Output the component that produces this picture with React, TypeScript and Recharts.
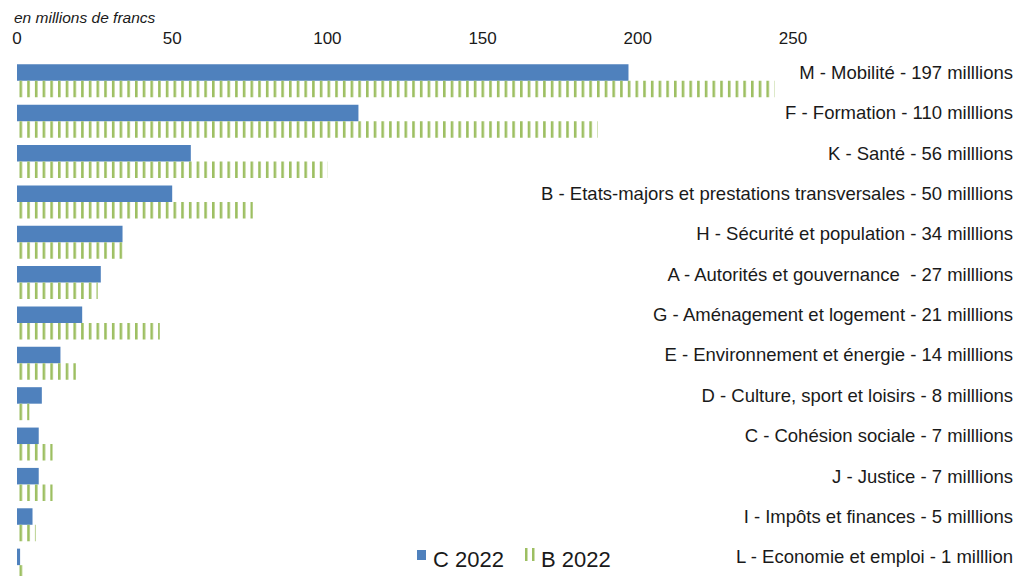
import React from 'react'
import { BarChart, Bar, XAxis, YAxis, Legend } from 'recharts'

const categories = [
  'M - Mobilité - 197 milllions',
  'F - Formation - 110 milllions',
  'K - Santé - 56 milllions',
  'B - Etats-majors et prestations transversales - 50 milllions',
  'H - Sécurité et population - 34 milllions',
  'A - Autorités et gouvernance  - 27 milllions',
  'G - Aménagement et logement - 21 milllions',
  'E - Environnement et énergie - 14 milllions',
  'D - Culture, sport et loisirs - 8 milllions',
  'C - Cohésion sociale - 7 milllions',
  'J - Justice - 7 milllions',
  'I - Impôts et finances - 5 milllions',
  'L - Economie et emploi - 1 milllion',
]
const c2022 = [197, 110, 56, 50, 34, 27, 21, 14, 8, 7, 7, 5, 1]
const b2022 = [244, 187, 100, 76, 34, 26, 46, 19, 4, 11.5, 11.5, 6, 2.5]
const xTicks = [0, 50, 100, 150, 200, 250]

const BLUE = '#4f81bd'
const GREEN = '#9dbf62'
const FONT = '"Liberation Sans", Arial, sans-serif'

const data = categories.map((name, i) => ({ name, c: c2022[i], b: b2022[i] }))

// right-aligned category labels, level with the blue bar
const CategoryTick = ({ y, payload }: any) => (
  <text
    x={1013}
    y={y - 8.25}
    dy="0.36em"
    textAnchor="end"
    fontSize={18.5}
    fill="#1a1a1a"
    fontFamily={FONT}
    style={{ whiteSpace: 'pre' }}
  >
    {payload.value}
  </text>
)

const renderLegend = () => (
  <svg width={220} height={30}>
    <rect x={2} y={5} width={9} height={10} fill={BLUE} />
    <text x={18} y={22} fontSize={22} fill="#1a1a1a" fontFamily={FONT}>C 2022</text>
    <rect x={110} y={3} width={2.5} height={13} fill={GREEN} />
    <rect x={117} y={3} width={2.5} height={13} fill={GREEN} />
    <text x={126} y={22} fontSize={22} fill="#1a1a1a" fontFamily={FONT}>B 2022</text>
  </svg>
)

export default function App() {
  return (
    <div style={{ position: 'absolute', top: 0, left: 0, width: 1015, height: 576, overflow: 'hidden', background: '#fff', fontFamily: FONT }}>
      <svg width={0} height={0} style={{ position: 'absolute' }}>
        <defs>
          <pattern id="vstripes" x={19.5} y={0} width={7.7} height={10} patternUnits="userSpaceOnUse">
            <rect x={0} y={0} width={2.6} height={10} fill={GREEN} />
          </pattern>
        </defs>
      </svg>
      <div style={{ position: 'absolute', left: 14, top: 9, fontSize: 15.5, fontStyle: 'italic', color: '#1a1a1a' }}>
        en millions de francs
      </div>
      <BarChart
        width={1015}
        height={585}
        data={data}
        layout="vertical"
        margin={{ top: 0, right: 0, bottom: 0, left: 17 }}
        barGap={0}
      >
        <XAxis
          type="number"
          orientation="top"
          domain={[0, 250]}
          ticks={xTicks}
          height={60.3}
          axisLine={false}
          tickLine={false}
          tickMargin={10}
          tick={{ fontSize: 17, fill: '#1a1a1a', fontFamily: FONT }}
          interval={0}
        />
        <YAxis
          type="category"
          dataKey="name"
          orientation="right"
          width={222}
          axisLine={false}
          tickLine={false}
          tick={<CategoryTick />}
          interval={0}
        />
        <Legend
          layout="horizontal"
          verticalAlign="middle"
          align="center"
          wrapperStyle={{ top: 545, left: 415, width: 220 }}
          content={renderLegend}
        />
        <Bar dataKey="c" name="C 2022" fill={BLUE} barSize={16.5} isAnimationActive={false} />
        <Bar dataKey="b" name="B 2022" fill="url(#vstripes)" barSize={16.5} isAnimationActive={false} />
      </BarChart>
    </div>
  )
}
